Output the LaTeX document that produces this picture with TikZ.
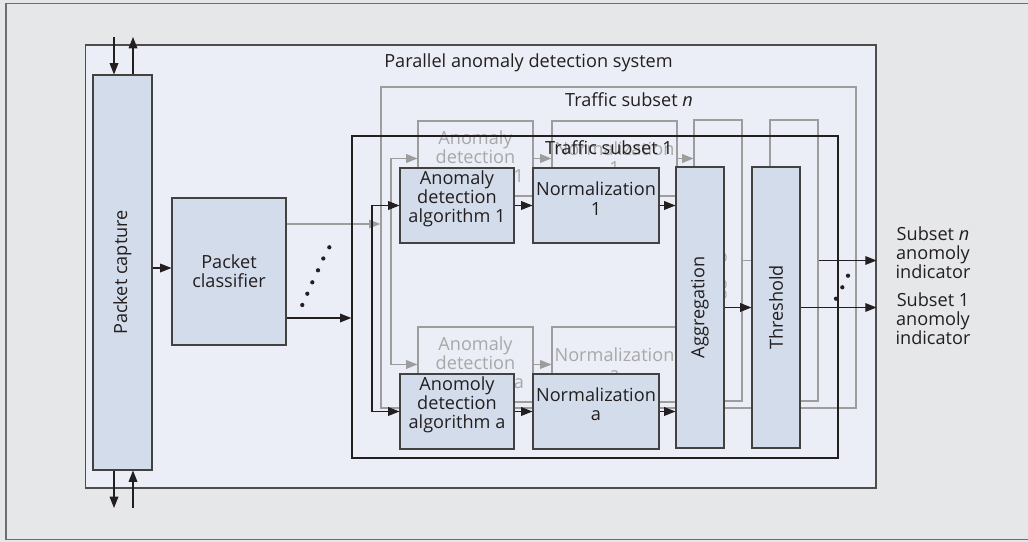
\documentclass[tikz,border=0pt]{standalone}
\usepackage{fontspec}
\setmainfont{Open Sans}
\usetikzlibrary{arrows.meta,fit}
\definecolor{bgray}{HTML}{E6E7E8}
\definecolor{framec}{HTML}{6D6E71}
\definecolor{sysfill}{HTML}{EBEEF6}
\definecolor{blkfill}{HTML}{D3DCEA}
\definecolor{ghost}{HTML}{9D9D9D}
\definecolor{ghosttxt}{HTML}{A8A8A8}
\definecolor{ink}{HTML}{231F20}
\begin{document}
\begin{tikzpicture}[x=0.75pt,y=-0.75pt,
  font=\fontsize{13.6}{14.3}\selectfont,
  blk/.style={draw=ink!85, fill=blkfill, line width=0.8pt, inner sep=0pt, align=center, text=ink},
  gbox/.style={draw=ghost, line width=0.8pt, inner sep=0pt, align=center, text=ghosttxt},
  arr/.style={draw=ink, line width=0.9pt, -{Triangle[length=8.5pt,width=6.5pt]}},
  garr/.style={draw=ghost, ghost, line width=0.9pt, -{Triangle[length=8.5pt,width=6.5pt]}},
  lbl/.style={text=ink, inner sep=0pt, align=center},
  glbl/.style={text=ghosttxt, inner sep=0pt, align=center},
  dot/.style={fill=ink}]
\useasboundingbox (0,0) rectangle (1028,542);
\fill[bgray] (0,0) rectangle (1028,542);
\draw[framec, line width=1.2pt] (1030,3.5) -- (6,3.5) -- (6,539.5) -- (1030,539.5);

% system
\node[draw=ink!80, fill=sysfill, line width=0.9pt, inner sep=0pt, fit={(85.5,45)(876,488)}] (sys) {};
\node[lbl] (systitle) at (528.5,63) {Parallel anomaly detection system};

% packet capture
\node[blk, fit={(93,75)(152,470)}] (cap) {};
\node[lbl, rotate=90] (capt) at (cap.center) {Packet capture};
\coordinate (capInTop) at (114,37);
\coordinate (capOutTop) at (133,37);
\coordinate (capOutBot) at (114,508);
\coordinate (capInBot) at (133,508);
\draw[arr] (capInTop) -- (capInTop |- cap.north);
\draw[arr] (capOutTop |- cap.north) -- (capOutTop);
\draw[arr] (capOutBot |- cap.south) -- (capOutBot);
\draw[arr] (capInBot) -- (capInBot |- cap.south);

% classifier
\node[blk, fit={(172,198)(286,345)}] (cls) {};
\node[lbl] (clst) at (cls.center) {Packet\\classifier};
\coordinate (cy) at (160,268);
\draw[arr] (cap.east |- cy) -- (cls.west |- cy);

% traffic subset n
\node[draw=ghost, line width=0.9pt, inner sep=0pt, fit={(381,87)(856,408)}] (sn) {};
\node[lbl] (sntitle) at (629,100) {Traffic subset \textit{n}};

% ghost boxes
\node[gbox, fit={(418,121)(533,196)}] (gad1) {};
\node[glbl] (gad1t) at (gad1.center) {Anomaly\\detection\\algorithm 1};
\node[gbox, fit={(552,121)(677,196)}] (gnm1) {};
\node[glbl] (gnm1t) at (gnm1.center) {Normalization\\1};
\node[gbox, fit={(418,327)(533,402)}] (gada) {};
\node[glbl] (gadat) at (gada.center) {Anomaly\\detection\\algorithm a};
\node[gbox, fit={(552,327)(677,402)}] (gnma) {};
\node[glbl] (gnmat) at (gnma.center) {Normalization\\a};
\node[gbox, fit={(694,120)(742,401)}] (gagg) {};
\node[glbl, rotate=90] (gaggt) at (gagg.center) {Aggregation};
\node[gbox, fit={(770,120)(818,401)}] (gthr) {};
\node[glbl, rotate=90] (gthrt) at (gthr.center) {Threshold};

% ghost connectors
\coordinate (gy) at (300,224);
\draw[garr] (cls.east |- gy) -- (sn.west |- gy);
\coordinate (gb1) at (391,158.5);
\coordinate (gb2) at (391,364.5);
\draw[garr] (gb2) -- (gb1) -- (gad1.west);
\draw[garr] (gb1) -- (gb2) -- (gada.west);
\draw[garr] (gad1.east) -- (gnm1.west);
\draw[garr] (gnm1.east) -- (gagg.west |- gnm1.east);
\draw[garr] (gada.east) -- (gnma.west);
\draw[garr] (gnma.east) -- (gagg.west |- gnma.east);
\draw[garr] (gagg.east |- gthr.west) -- (gthr.west);
\draw[arr] (gthr.east) -- (sys.east |- gthr.east);

% traffic subset 1
\node[draw=ink, line width=0.9pt, inner sep=0pt, fit={(352,136)(838,458)}] (s1) {};
\node[lbl] (s1title) at (609,148) {Traffic subset 1};

% real boxes
\node[blk, fit={(400,168)(514,243)}] (ad1) {Anomaly\\detection\\algorithm 1};
\node[blk, fit={(533,168)(659,243)}] (nm1) {Normalization\\1};
\node[blk, fit={(400,374)(514,449)}] (ada) {Anomoly\\detection\\algorithm a};
\node[blk, fit={(533,374)(659,449)}] (nma) {Normalization\\a};
\node[blk, fit={(676,167)(724,448)}] (agg) {};
\node[lbl, rotate=90] (aggt) at (agg.center) {Aggregation};
\node[blk, fit={(752,167)(800,448)}] (thr) {};
\node[lbl, rotate=90] (thrt) at (thr.center) {Threshold};

% black connectors
\coordinate (by) at (300,318);
\draw[arr] (cls.east |- by) -- (s1.west |- by);
\coordinate (bb1) at (372,205.5);
\coordinate (bb2) at (372,411.5);
\draw[arr] (bb2) -- (bb1) -- (ad1.west);
\draw[arr] (bb1) -- (bb2) -- (ada.west);
\draw[arr] (ad1.east) -- (nm1.west);
\draw[arr] (nm1.east) -- (agg.west |- nm1.east);
\draw[arr] (ada.east) -- (nma.west);
\draw[arr] (nma.east) -- (agg.west |- nma.east);
\draw[arr] (agg.east) -- (thr.west);
\draw[arr] (thr.east) -- (sys.east |- thr.east);

% dots
\foreach \px/\py in {302.3/305, 307.3/293.7, 312.3/282.3, 318/270.3, 323.3/258.5, 329.3/247.3}
  \fill[dot] (\px,\py) circle (1.6pt);
\foreach \px/\py in {836/298.7, 842.3/287.3, 848/275.7}
  \fill[dot] (\px,\py) circle (1.6pt);

% outputs
\node[lbl] (outn) at (933,252.5) {Subset \textit{n}\\anomoly\\indicator};
\node[lbl] (out1) at (933,318.5) {Subset 1\\anomoly\\indicator};
\end{tikzpicture}
\end{document}
